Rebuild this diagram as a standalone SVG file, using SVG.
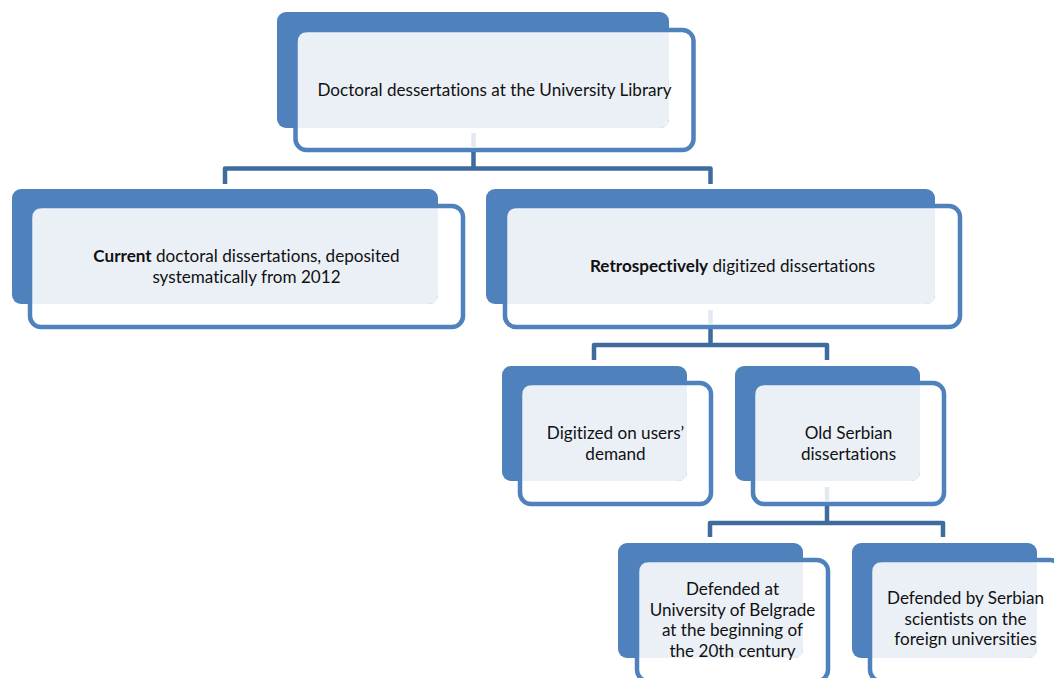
<svg xmlns="http://www.w3.org/2000/svg" width="1054" height="678" viewBox="0 0 1054 678">
<style>
.back{fill:#4F81BD}
.outline{fill:#FFFFFF;stroke:#4F81BD;stroke-width:4.5}
.light{fill:#EBF0F7}
.t{font-family:Lato,"Liberation Sans",sans-serif;font-size:17.1px;fill:#111;text-anchor:middle;font-variant-ligatures:none}
.b{font-weight:bold}
.con{fill:none;stroke:#3F6B9E;stroke-width:4.5;stroke-linejoin:round}
.conl{fill:none;stroke:#E3E9F2;stroke-width:4.5}
</style>
<rect width="1054" height="678" fill="#FFFFFF"/>
<g id="node-root">
<rect class="outline" x="295.5" y="30" width="398" height="120" rx="11"/>
<rect class="back" x="277" y="12" width="392" height="116" rx="9"/>
<path class="light" d="M307.5,32.25 H669 V119 Q669,128 660,128 H297.75 V42 Q297.75,32.25 307.5,32.25 Z"/>
<text class="t" x="494.5" y="96">Doctoral dessertations at the University Library</text>
</g>
<g id="node-current">
<rect class="outline" x="30" y="206" width="433" height="121" rx="11"/>
<rect class="back" x="12" y="189" width="426" height="115" rx="9"/>
<path class="light" d="M42,208.25 H438 V295 Q438,304 429,304 H32.25 V218 Q32.25,208.25 42,208.25 Z"/>
<text class="t" x="246.5" y="262"><tspan class="b">Current</tspan> doctoral dissertations, deposited</text>
<text class="t" x="246.5" y="282.5">systematically from 2012</text>
</g>
<g id="node-retro">
<rect class="outline" x="505" y="206" width="455" height="121" rx="11"/>
<rect class="back" x="486" y="189" width="449" height="115" rx="9"/>
<path class="light" d="M517,208.25 H935 V295 Q935,304 926,304 H507.25 V218 Q507.25,208.25 517,208.25 Z"/>
<text class="t" x="732.5" y="272"><tspan class="b">Retrospectively</tspan> digitized dissertations</text>
</g>
<g id="node-demand">
<rect class="outline" x="520" y="383" width="191" height="121" rx="11"/>
<rect class="back" x="502" y="366" width="185" height="115" rx="9"/>
<path class="light" d="M532,385.25 H687 V472 Q687,481 678,481 H522.25 V395 Q522.25,385.25 532,385.25 Z"/>
<text class="t" x="615.5" y="439">Digitized on users’</text>
<text class="t" x="615.5" y="460">demand</text>
</g>
<g id="node-old">
<rect class="outline" x="753" y="383" width="191" height="121" rx="11"/>
<rect class="back" x="735" y="366" width="185" height="115" rx="9"/>
<path class="light" d="M765,385.25 H920 V472 Q920,481 911,481 H755.25 V395 Q755.25,385.25 765,385.25 Z"/>
<text class="t" x="848.5" y="439">Old Serbian</text>
<text class="t" x="848.5" y="460">dissertations</text>
</g>
<g id="node-belgrade">
<rect class="outline" x="637" y="560" width="191" height="121" rx="11"/>
<rect class="back" x="618" y="543" width="185" height="115" rx="9"/>
<path class="light" d="M649,562.25 H803 V649 Q803,658 794,658 H639.25 V572 Q639.25,562.25 649,562.25 Z"/>
<text class="t" x="732.5" y="595">Defended at</text>
<text class="t" x="732.5" y="615.5">University of Belgrade</text>
<text class="t" x="732.5" y="636">at the beginning of</text>
<text class="t" x="732.5" y="656.5">the 20th century</text>
</g>
<g id="node-foreign">
<rect class="outline" x="870" y="560" width="191" height="121" rx="11"/>
<rect class="back" x="852" y="543" width="185" height="115" rx="9"/>
<path class="light" d="M882,562.25 H1037 V649 Q1037,658 1028,658 H872.25 V572 Q872.25,562.25 882,562.25 Z"/>
<text class="t" x="965.5" y="604">Defended by Serbian</text>
<text class="t" x="965.5" y="624.5">scientists on the</text>
<text class="t" x="965.5" y="645">foreign universities</text>
</g>
<g id="connectors">
<path class="conl" d="M473.5,133 V148"/>
<path class="con" d="M473.5,152 V168.5"/>
<path class="con" d="M225,184 V168.5 H710.5 V184"/>
<path class="conl" d="M710.5,310 V324"/>
<path class="con" d="M710.5,329 V345"/>
<path class="con" d="M594,360 V345 H827 V360"/>
<path class="conl" d="M827,487 V501"/>
<path class="con" d="M827,506 V523"/>
<path class="con" d="M710,537 V523 H943 V537"/>
</g>
</svg>
